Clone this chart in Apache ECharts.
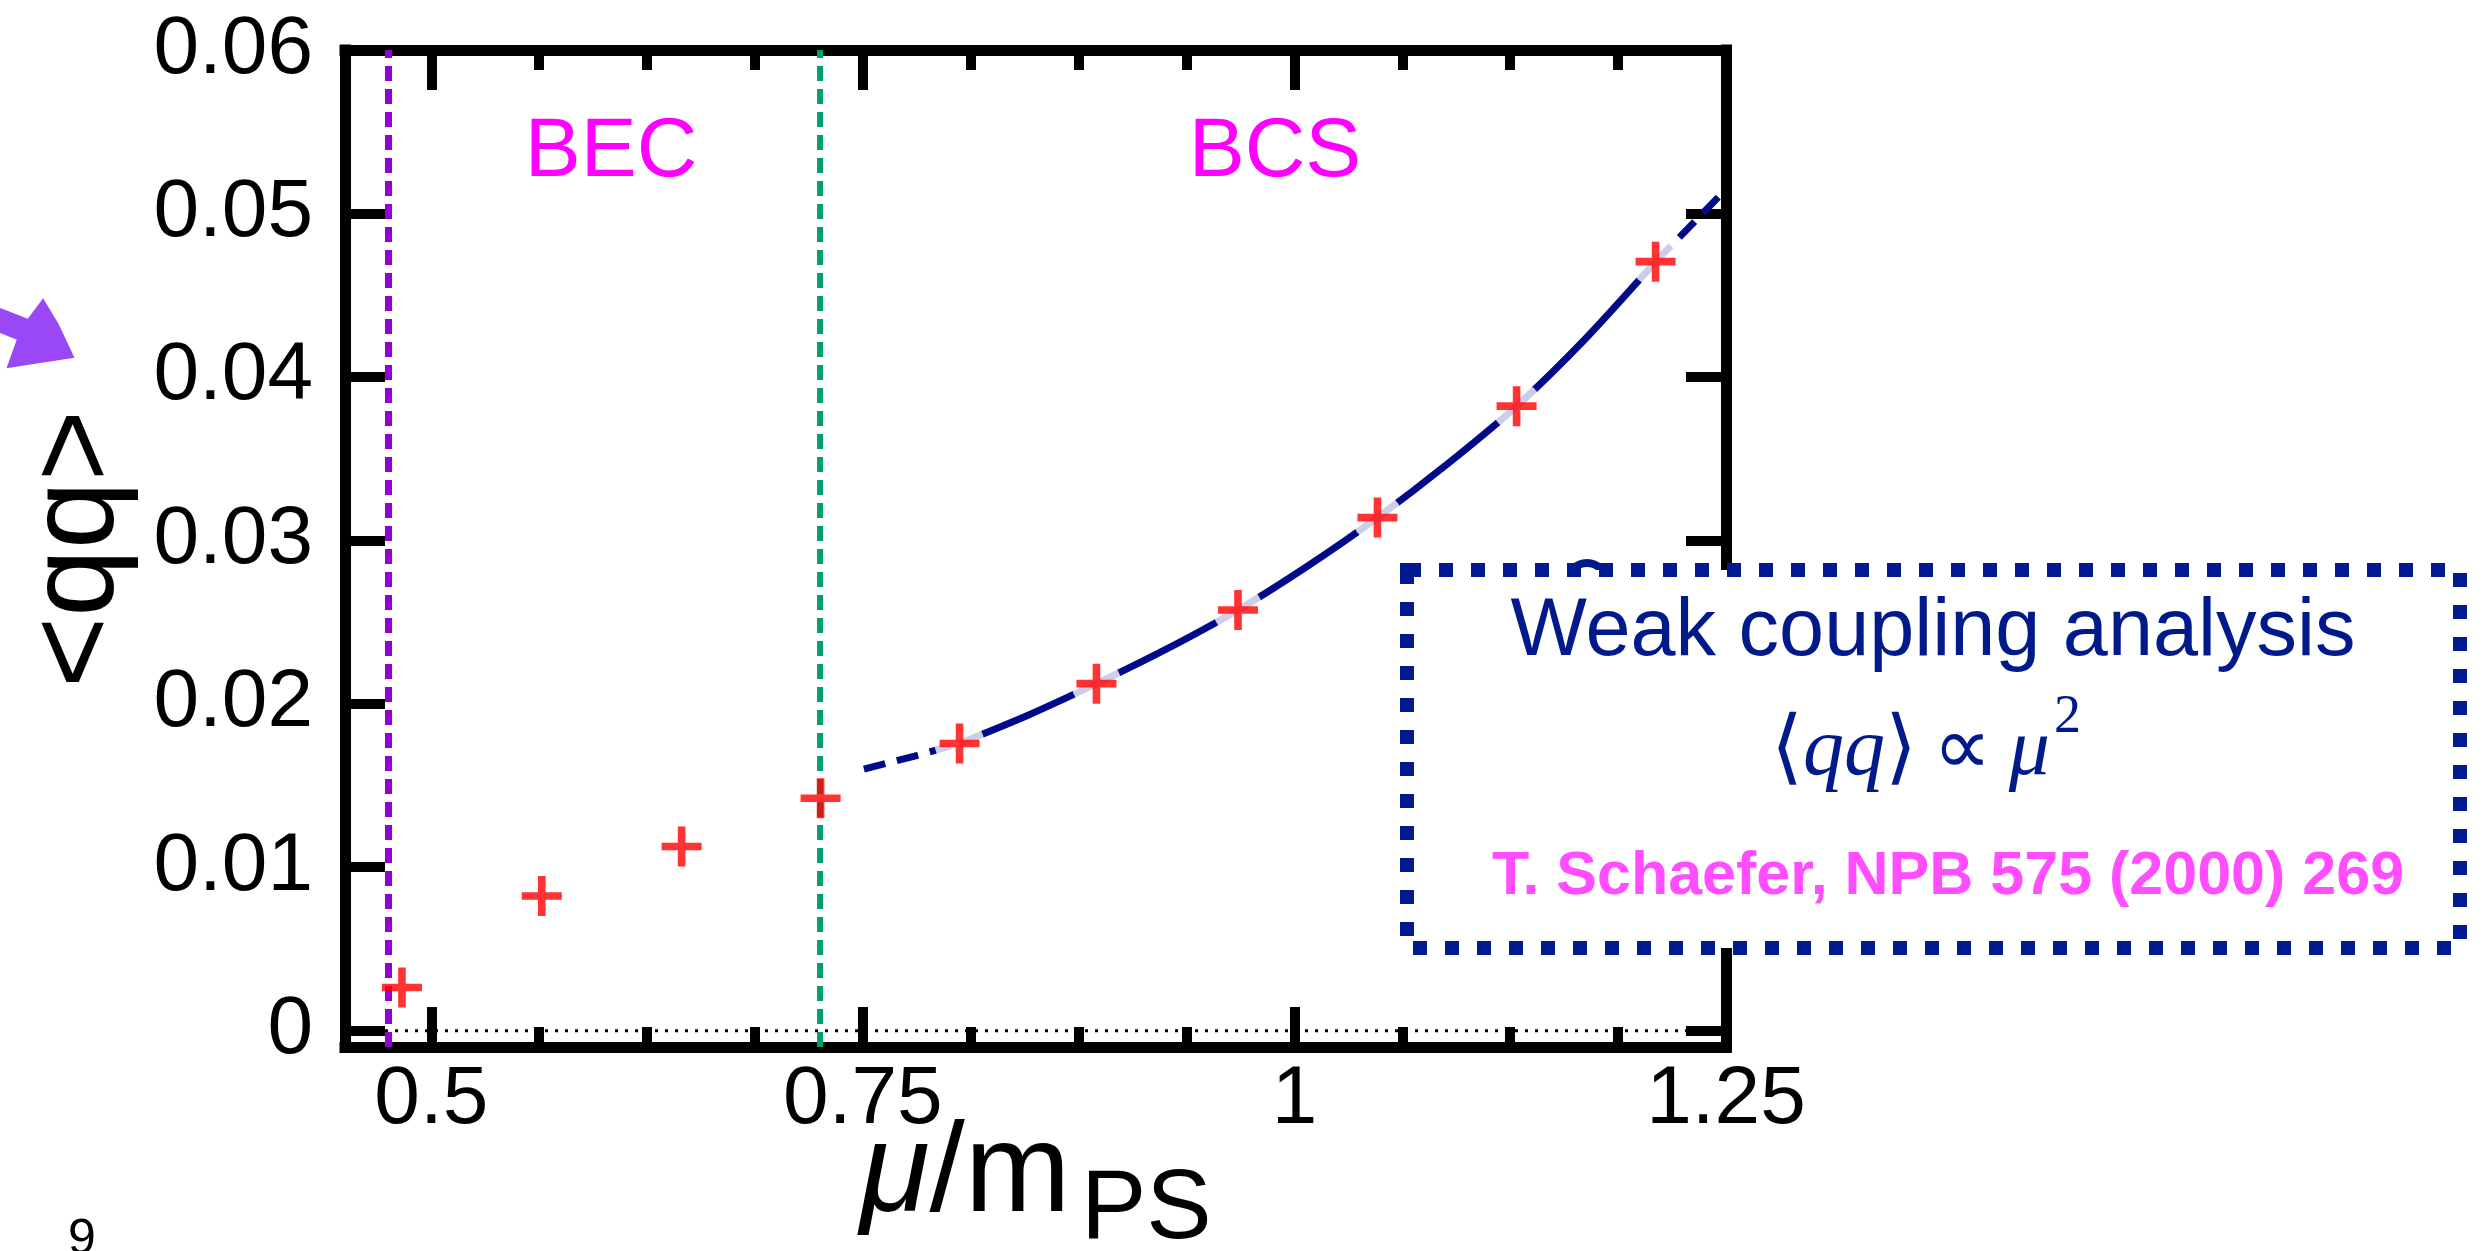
<!DOCTYPE html>
<html><head><meta charset="utf-8">
<script src="https://cdn.jsdelivr.net/npm/echarts@6/dist/echarts.min.js"></script>
<style>html,body{margin:0;padding:0;background:#fff}#c{width:2484px;height:1251px}</style>
</head><body><div id="c"></div>
<script>
// ---- data ----
const muData = [0.483, 0.564, 0.645, 0.7255, 0.806, 0.8853, 0.9673, 1.0481, 1.1287, 1.2092];
const qqData = [0.00264, 0.00824, 0.01127, 0.01422, 0.01757, 0.02123, 0.02574, 0.03139, 0.03821, 0.04705];

const fitLeftX = [0.7506, 0.78, 0.806];
const fitLeftY = [0.0160, 0.0168, 0.01757];
const fitSolidX = [0.806, 0.8457, 0.8853, 0.9263, 0.9673, 1.0077, 1.0481, 1.0884, 1.1287, 1.169, 1.2092];
const fitSolidY = [0.01757, 0.0193, 0.02123, 0.02337, 0.02574, 0.02843, 0.03139, 0.03465, 0.03821, 0.04238, 0.04705];
const fitRightX = [1.2092, 1.23, 1.2465];
const fitRightY = [0.04705, 0.0493, 0.0511];

const becLineX = 0.4752;
const bcsLineX = 0.7252;
const zeroLineY = 0;

const xTickValues = [0.5, 0.75, 1, 1.25];
const xTickLabels = ['0.5', '0.75', '1', '1.25'];
const xMinorTicks = [0.5625, 0.625, 0.6875, 0.8125, 0.875, 0.9375, 1.0625, 1.125, 1.1875];
const yTickValues = [0, 0.01, 0.02, 0.03, 0.04, 0.05, 0.06];
const yTickLabels = ['0', '0.01', '0.02', '0.03', '0.04', '0.05', '0.06'];

const xRange = [0.45, 1.25];
const yRange = [-0.001, 0.06];

const regionLabels = ['BEC', 'BCS'];
const boxTitle = 'Weak coupling analysis';
const boxRef = 'T. Schaefer, NPB 575 (2000) 269';

// ---- helpers ----
const zip = (a, b) => a.map((v, i) => [v, b[i]]);
const lookup = (vals, labels) => v => {
  const i = vals.findIndex(t => Math.abs(t - v) < 1e-9);
  return i >= 0 ? labels[i] : '';
};
const SANS = "'Liberation Sans', Arial, Helvetica, sans-serif";
const SERIF = "'Liberation Serif', 'Times New Roman', serif";
const NAVY = '#000a8a';
const BOXBLUE = '#001a94';
const PLUS = 'path://M0.405,0H0.595V0.405H1V0.595H0.595V1H0.405V0.595H0V0.405H0.405Z';

const axisLineStyle = { color: '#000', width: 11, cap: 'square' };
const majorTick = (vals) => ({ show: true, inside: true, length: 40, customValues: vals, lineStyle: { color: '#000', width: 10 } });
const minorTick = (vals) => ({ show: true, inside: true, length: 20, customValues: vals, lineStyle: { color: '#000', width: 10 } });

const option = {
  animation: false,
  backgroundColor: '#ffffff',
  grid: [
    { left: 345, right: 758, top: 50, bottom: 204, containLabel: false },
    { left: 345, right: 758, top: 50, bottom: 204, containLabel: false }
  ],
  xAxis: [
    { type: 'value', gridIndex: 0, position: 'bottom', min: xRange[0], max: xRange[1],
      axisLine: { show: true, onZero: false, lineStyle: axisLineStyle },
      axisTick: majorTick(xTickValues),
      axisLabel: { show: true, customValues: xTickValues, formatter: lookup(xTickValues, xTickLabels),
        fontSize: 82, fontFamily: SANS, color: '#000', margin: 12 },
      splitLine: { show: false } },
    { type: 'value', gridIndex: 0, position: 'top', min: xRange[0], max: xRange[1],
      axisLine: { show: true, onZero: false, lineStyle: axisLineStyle },
      axisTick: majorTick(xTickValues),
      axisLabel: { show: false }, splitLine: { show: false } },
    { type: 'value', gridIndex: 1, position: 'bottom', min: xRange[0], max: xRange[1],
      axisLine: { show: false, onZero: false },
      axisTick: minorTick(xMinorTicks),
      axisLabel: { show: false }, splitLine: { show: false } },
    { type: 'value', gridIndex: 1, position: 'top', min: xRange[0], max: xRange[1],
      axisLine: { show: false, onZero: false },
      axisTick: minorTick(xMinorTicks),
      axisLabel: { show: false }, splitLine: { show: false } }
  ],
  yAxis: [
    { type: 'value', gridIndex: 0, position: 'left', min: yRange[0], max: yRange[1],
      axisLine: { show: true, onZero: false, lineStyle: axisLineStyle },
      axisTick: majorTick(yTickValues),
      axisLabel: { show: true, customValues: yTickValues, formatter: lookup(yTickValues, yTickLabels),
        fontSize: 82, fontFamily: SANS, color: '#000', margin: 32 },
      splitLine: { show: false } },
    { type: 'value', gridIndex: 0, position: 'right', min: yRange[0], max: yRange[1],
      axisLine: { show: true, onZero: false, lineStyle: axisLineStyle },
      axisTick: majorTick(yTickValues),
      axisLabel: { show: false }, splitLine: { show: false } },
    { type: 'value', gridIndex: 1, min: yRange[0], max: yRange[1], show: false, axisLine: { onZero: false } }
  ],
  series: [
    { type: 'line', name: 'zero', data: [[xRange[0], zeroLineY], [xRange[1], zeroLineY]], showSymbol: false, silent: true, z: 1,
      lineStyle: { color: '#000', width: 3, type: [3, 7] } },
    { type: 'line', name: 'becLine', data: [[becLineX, yRange[0]], [becLineX, yRange[1]]], showSymbol: false, silent: true, z: 1,
      lineStyle: { color: '#9400d3', width: 7, type: [15, 8] } },
    { type: 'line', name: 'bcsLine', data: [[bcsLineX, yRange[0]], [bcsLineX, yRange[1]]], showSymbol: false, silent: true, z: 1,
      lineStyle: { color: '#009e73', width: 6, type: [15, 8] } },
    { type: 'line', name: 'fitLeft', data: zip(fitLeftX, fitLeftY), showSymbol: false, z: 2,
      lineStyle: { color: NAVY, width: 7, type: [22, 12] } },
    { type: 'line', name: 'fitSolid', data: zip(fitSolidX, fitSolidY), showSymbol: false, smooth: 0.25, z: 2,
      lineStyle: { color: NAVY, width: 7 } },
    { type: 'line', name: 'fitRight', data: zip(fitRightX, fitRightY), showSymbol: false, z: 2,
      lineStyle: { color: NAVY, width: 7, type: [22, 12] } },
    { type: 'scatter', name: 'halo', z: 3, silent: true,
      data: zip(muData, qqData).filter(p => p[0] >= fitLeftX[0]),
      symbol: 'circle', symbolSize: 50, itemStyle: { color: '#ffffff' } },
    { type: 'scatter', name: 'data', z: 4,
      data: zip(muData, qqData), symbol: PLUS, symbolSize: 40, itemStyle: { color: '#ff0000' } }
  ],
  graphic: [
    // region labels
    { type: 'text', x: 611, y: 153, z: 50, style: { text: regionLabels[0], fontSize: 84, fontFamily: SANS, fill: '#ff00ff',
      align: 'center', verticalAlign: 'middle', textAlign: 'center', textVerticalAlign: 'middle' } },
    { type: 'text', x: 1275, y: 153, z: 50, style: { text: regionLabels[1], fontSize: 84, fontFamily: SANS, fill: '#ff00ff',
      align: 'center', verticalAlign: 'middle', textAlign: 'center', textVerticalAlign: 'middle' } },
    // y axis title
    { type: 'text', x: 79, y: 549, rotation: Math.PI / 2, z: 50, style: { text: '<qq>', fontSize: 122, fontFamily: SANS, fill: '#000',
      align: 'center', verticalAlign: 'middle', textAlign: 'center', textVerticalAlign: 'middle' } },
    // x axis title
    { type: 'text', x: 860, y: 1176, z: 50, style: {
      text: '{i|μ}{n|/m}', fill: '#000', align: 'left', verticalAlign: 'middle', textAlign: 'left', textVerticalAlign: 'middle',
      rich: { i: { fontSize: 127, fontFamily: SANS, fontStyle: 'italic', fill: '#000' },
              n: { fontSize: 127, fontFamily: SANS, fill: '#000' } } } },
    { type: 'text', x: 1081, y: 1211, z: 50, style: { text: 'PS', fontSize: 98, fontFamily: SANS, fill: '#000',
      align: 'left', verticalAlign: 'middle', textAlign: 'left', textVerticalAlign: 'middle' } },
    // partially hidden glyph peeking above the box
    { type: 'arc', z: 99, shape: { cx: 1587, cy: 582, r: 19, startAngle: Math.PI, endAngle: 2 * Math.PI },
      style: { fill: 'none', stroke: '#001a8c', lineWidth: 8 } },
    // annotation box
    { type: 'rect', z: 100, shape: { x: 1407, y: 570, width: 1053, height: 378 },
      style: { fill: '#ffffff', stroke: BOXBLUE, lineWidth: 14, lineDash: [14, 18] } },
    { type: 'text', x: 1933, y: 633, z: 101, style: { text: boxTitle, fontSize: 81, fontFamily: SANS, fill: '#001a8c',
      align: 'center', verticalAlign: 'middle', textAlign: 'center', textVerticalAlign: 'middle' } },
    { type: 'text', x: 2050, y: 752, z: 101, style: {
      text: '{n|⟨}{i|qq}{n|⟩\u2009∝\u2009}{i|μ}', fill: '#001a8c', align: 'right', verticalAlign: 'middle', textAlign: 'right', textVerticalAlign: 'middle',
      rich: { n: { fontSize: 82, fontFamily: SERIF, fill: '#001a8c' },
              i: { fontSize: 82, fontFamily: SERIF, fontStyle: 'italic', fill: '#001a8c' } } } },
    { type: 'text', x: 2054, y: 718, z: 101, style: { text: '2', fontSize: 54, fontFamily: SERIF, fill: '#001a8c',
      align: 'left', verticalAlign: 'middle', textAlign: 'left', textVerticalAlign: 'middle' } },
    { type: 'text', x: 1948, y: 877, z: 101, style: { text: boxRef, fontSize: 61, fontWeight: 'bold', fontFamily: SANS, fill: '#ff4dff',
      align: 'center', verticalAlign: 'middle', textAlign: 'center', textVerticalAlign: 'middle' } },
    // purple hand-drawn arrow
    { type: 'polygon', z: 50, shape: { points: [[0, 309], [28, 320], [43, 300], [58, 325], [73, 357], [40, 362], [8, 367], [18, 339], [0, 332]] },
      style: { fill: '#9a48f5', stroke: '#9a48f5', lineWidth: 2 } },
    // page number
    { type: 'text', x: 82, y: 1240, z: 50, style: { text: '9', fontSize: 50, fontFamily: SANS, fill: '#000',
      align: 'center', verticalAlign: 'middle', textAlign: 'center', textVerticalAlign: 'middle' } }
  ]
};

const chart = echarts.init(document.getElementById('c'), null, { renderer: 'canvas' });
chart.setOption(option);
</script>
</body></html>
